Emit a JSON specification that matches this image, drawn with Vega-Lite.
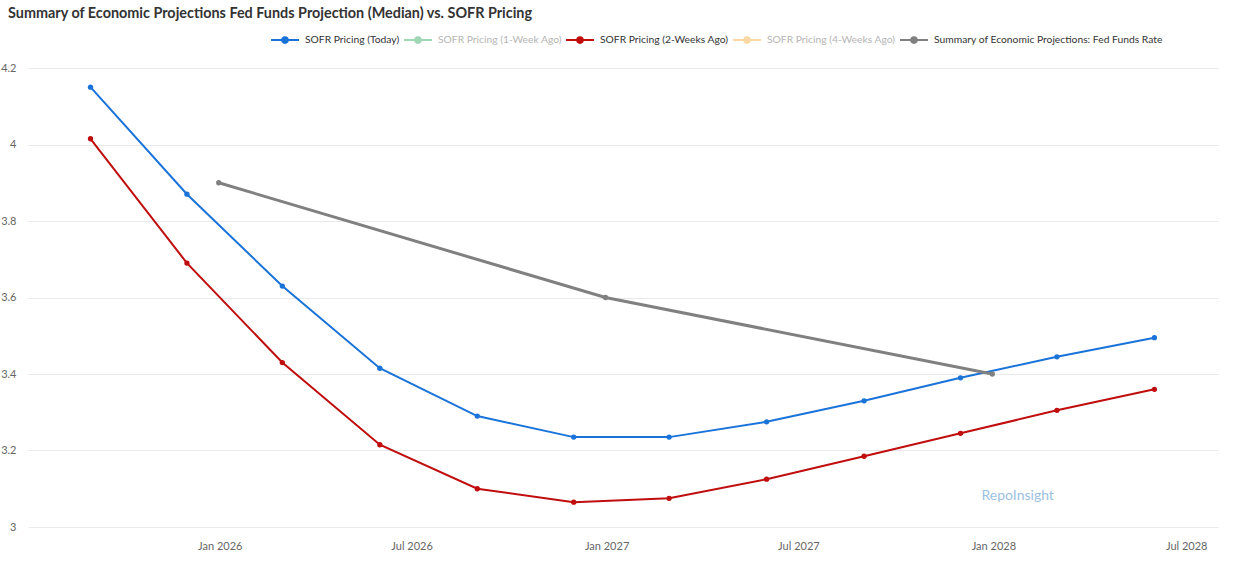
{
  "$schema": "https://vega.github.io/schema/vega-lite/v6.json",
  "width": 1190,
  "height": 459,
  "autosize": {"type": "none"},
  "padding": {"left": 28, "top": 68, "right": 20, "bottom": 35},
  "background": "white",
  "title": {
    "text": "Summary of Economic Projections Fed Funds Projection (Median) vs. SOFR Pricing",
    "anchor": "start",
    "frame": "group",
    "font": "Lato",
    "fontSize": 14.4,
    "fontWeight": "bold",
    "color": "#333333",
    "offset": 4,
    "dx": -20
  },
  "config": {
    "view": {"stroke": null},
    "font": "Lato",
    "axis": {"labelFont": "Lato", "labelColor": "#666666", "labelFontSize": 11, "gridColor": "#e9e9e9", "domain": false, "ticks": false, "title": null}
  },
  "datasets": {
    "lines": [
      {"series": "SOFR Pricing (Today)", "date": "2025-09-01", "value": 4.15},
      {"series": "SOFR Pricing (Today)", "date": "2025-12-01", "value": 3.87},
      {"series": "SOFR Pricing (Today)", "date": "2026-03-01", "value": 3.63},
      {"series": "SOFR Pricing (Today)", "date": "2026-06-01", "value": 3.415},
      {"series": "SOFR Pricing (Today)", "date": "2026-09-01", "value": 3.29},
      {"series": "SOFR Pricing (Today)", "date": "2026-12-01", "value": 3.235},
      {"series": "SOFR Pricing (Today)", "date": "2027-03-01", "value": 3.235},
      {"series": "SOFR Pricing (Today)", "date": "2027-06-01", "value": 3.275},
      {"series": "SOFR Pricing (Today)", "date": "2027-09-01", "value": 3.33},
      {"series": "SOFR Pricing (Today)", "date": "2027-12-01", "value": 3.39},
      {"series": "SOFR Pricing (Today)", "date": "2028-03-01", "value": 3.445},
      {"series": "SOFR Pricing (Today)", "date": "2028-06-01", "value": 3.495},
      {"series": "SOFR Pricing (2-Weeks Ago)", "date": "2025-09-01", "value": 4.015},
      {"series": "SOFR Pricing (2-Weeks Ago)", "date": "2025-12-01", "value": 3.69},
      {"series": "SOFR Pricing (2-Weeks Ago)", "date": "2026-03-01", "value": 3.43},
      {"series": "SOFR Pricing (2-Weeks Ago)", "date": "2026-06-01", "value": 3.215},
      {"series": "SOFR Pricing (2-Weeks Ago)", "date": "2026-09-01", "value": 3.1},
      {"series": "SOFR Pricing (2-Weeks Ago)", "date": "2026-12-01", "value": 3.065},
      {"series": "SOFR Pricing (2-Weeks Ago)", "date": "2027-03-01", "value": 3.075},
      {"series": "SOFR Pricing (2-Weeks Ago)", "date": "2027-06-01", "value": 3.125},
      {"series": "SOFR Pricing (2-Weeks Ago)", "date": "2027-09-01", "value": 3.185},
      {"series": "SOFR Pricing (2-Weeks Ago)", "date": "2027-12-01", "value": 3.245},
      {"series": "SOFR Pricing (2-Weeks Ago)", "date": "2028-03-01", "value": 3.305},
      {"series": "SOFR Pricing (2-Weeks Ago)", "date": "2028-06-01", "value": 3.36},
      {"series": "Summary of Economic Projections: Fed Funds Rate", "date": "2025-12-31", "value": 3.9},
      {"series": "Summary of Economic Projections: Fed Funds Rate", "date": "2026-12-31", "value": 3.6},
      {"series": "Summary of Economic Projections: Fed Funds Rate", "date": "2027-12-31", "value": 3.4}
    ],
    "watermark": [
      {"label": "RepoInsight", "date": "2028-01-24", "value": 3.08}
    ]
  },
  "layer": [
    {
      "data": {"name": "lines"},
      "mark": {"type": "line", "interpolate": "linear"},
      "encoding": {
        "x": {
          "field": "date", "type": "temporal",
          "scale": {"domain": ["2025-07-04", "2028-07-31"]},
          "axis": {"format": "%b %Y", "tickCount": {"interval": "month", "step": 6}, "grid": false, "labelPadding": 13}
        },
        "y": {
          "field": "value", "type": "quantitative",
          "scale": {"domain": [3, 4.2], "nice": false, "zero": false},
          "axis": {"values": [3, 3.2, 3.4, 3.6, 3.8, 4, 4.2], "format": ".1~f", "labelPadding": 12}
        },
        "color": {
          "field": "series", "type": "nominal",
          "scale": {
            "domain": ["SOFR Pricing (Today)", "SOFR Pricing (1-Week Ago)", "SOFR Pricing (2-Weeks Ago)", "SOFR Pricing (4-Weeks Ago)", "Summary of Economic Projections: Fed Funds Rate"],
            "range": ["#1a73d9", "#9fd6b4", "#c00d0d", "#fbd8a3", "#808080"]
          },
          "legend": {
            "orient": "none",
            "legendX": 242,
            "legendY": -43,
            "direction": "horizontal",
            "title": null,
            "columns": 5,
            "columnPadding": 0,
            "labelFont": "Lato",
            "labelFontSize": 10.3,
            "labelColor": "#333333",
            "labelOffset": 5,
            "labelLimit": 0,
            "symbolType": "M -1 0 L 1 0 M -0.2 0 A 0.2 0.2 0 1 1 0.2 0 A 0.2 0.2 0 1 1 -0.2 0",
            "symbolSize": 784,
            "symbolStrokeWidth": 2,
            "encode": {
              "labels": {
                "update": {
                  "fill": {"signal": "indexof(['SOFR Pricing (1-Week Ago)','SOFR Pricing (4-Weeks Ago)'], datum.value) >= 0 ? '#b5b5b5' : '#333333'"}
                }
              }
            }
          }
        },
        "strokeWidth": {
          "condition": {"test": "datum.series === 'Summary of Economic Projections: Fed Funds Rate'", "value": 3},
          "value": 2
        }
      }
    },
    {
      "data": {"name": "lines"},
      "mark": {"type": "point", "filled": true, "size": 28, "opacity": 1},
      "encoding": {
        "x": {"field": "date", "type": "temporal"},
        "y": {"field": "value", "type": "quantitative"},
        "color": {"field": "series", "type": "nominal"}
      }
    },
    {
      "data": {"name": "watermark"},
      "mark": {"type": "text", "font": "Lato", "fontSize": 14, "color": "#9dbfdf", "align": "center", "baseline": "middle"},
      "encoding": {
        "x": {"field": "date", "type": "temporal"},
        "y": {"field": "value", "type": "quantitative"},
        "text": {"field": "label"}
      }
    }
  ]
}
